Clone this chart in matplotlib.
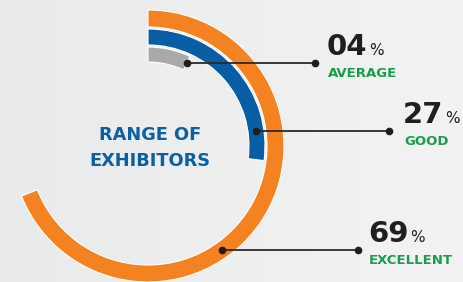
import numpy as np
import matplotlib.pyplot as plt
from matplotlib.colors import LinearSegmentedColormap
from matplotlib.patches import Wedge

# data
categories = ['EXCELLENT', 'GOOD', 'AVERAGE']
values = [69, 27, 4]
value_text = ['69', '27', '04']
colors = ['#f58220', '#075ea4', '#a8a9ab']

# ring layout (pixels)
cx, cy = 148, 136
outer_r = [136, 117, 99]
ring_w = [17, 16, 15]
min_sweep = 25               # keep tiny segments visible
line_y = [32, 151, 219]      # leader line height
line_end = [358, 389, 315]   # leader line end x
text_x = [368, 403, 327]

W, H = 463, 282
fig = plt.figure(figsize=(W / 100, H / 100), dpi=100)
fig.patch.set_facecolor('#eeeeef')
ax = fig.add_axes([0, 0, 1, 1])
ax.set_xlim(0, W)
ax.set_ylim(0, H)
ax.set_aspect('equal')
ax.axis('off')

# soft background gradient
grad = np.linspace(0, 1, 256)[None, :]
bg = LinearSegmentedColormap.from_list('bg', ['#e9eaeb', '#f3f3f3'])
ax.imshow(grad, extent=[0, W, 0, H], cmap=bg, aspect='auto', zorder=0)

for i in range(len(values)):
    sweep = max(values[i] / 100 * 360, min_sweep)
    ax.add_patch(Wedge((cx, cy), outer_r[i], 90 - sweep, 90, width=ring_w[i],
                       facecolor=colors[i], edgecolor='white', lw=0.8, zorder=2))
    # leader line from middle of band
    rm = outer_r[i] - ring_w[i] / 2
    dy = line_y[i] - cy
    dot_x = cx + np.sqrt(rm ** 2 - dy ** 2)
    ax.plot([dot_x, line_end[i]], [line_y[i], line_y[i]], color='#2a2a2a', lw=1.3, zorder=3)
    ax.plot([dot_x, line_end[i]], [line_y[i], line_y[i]], 'o', color='#1e1e1e', ms=4.5, zorder=4)

    num = ax.text(text_x[i], line_y[i] + 8, value_text[i], fontsize=21, fontweight='bold',
                  color='#1f1f1f', va='baseline', ha='left', zorder=5)
    fig.canvas.draw()
    bb = num.get_window_extent()
    ax.text(bb.x1 + 2, line_y[i] + 8, '%', fontsize=11, color='#1f1f1f',
            va='baseline', ha='left', zorder=5)
    ax.text(text_x[i] + 1, line_y[i] - 14, categories[i], fontsize=9.5, fontweight='bold',
            color='#1a9d4a', va='baseline', ha='left', zorder=5)

ax.text(150, 134, 'RANGE OF\nEXHIBITORS', fontsize=12.8, fontweight='bold', color='#0b5fa5',
        ha='center', va='center', linespacing=1.5, zorder=5)

fig.savefig('out.png', dpi=100, facecolor=fig.get_facecolor())
